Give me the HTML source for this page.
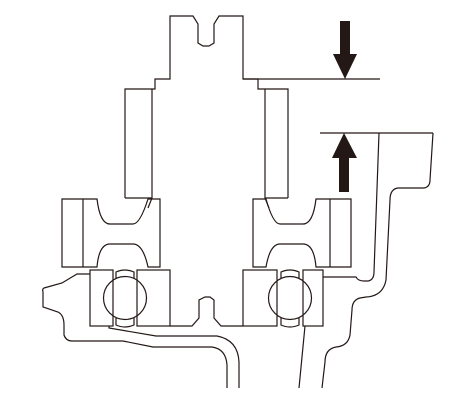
<!DOCTYPE html>
<html><head><meta charset="utf-8"><style>
html,body{margin:0;padding:0;background:#fff;width:475px;height:417px;overflow:hidden}
svg{display:block}
</style></head><body>
<svg width="475" height="417" viewBox="0 0 475 417" fill="none" stroke="#231815" stroke-width="1.2">
<path d="M125,198 L125,89 L155,89 L155,79 L170,79 L170,16 L193,16 L198,24 L198,43 L203,46 L209,46 L214,43 L214,24 L219,16 L243,16 L243,79 L258,79 L258,89 L288,89 L288,198"/>
<path d="M243,79 L380,79"/>
<path d="M152,89 L152,198 L148,208"/>
<path d="M265,89 L265,198 L269,208"/>
<path d="M125,198 L152,198 M265,198 L288,198"/>
<polygon fill="#231815" stroke="none" points="340,21 350,21 350,54 357,54 345,79 333,54 340,54"/>
<polygon fill="#231815" stroke="none" points="344,133 357,158 349,158 349,192 339,192 339,158 332,158"/>
<path d="M320,133 L433,133"/>
<path d="M62,199 L97,199 Q100,224 110,224 L133,224 Q140,224 148,199 L160,199 L160,267 L148,267 Q143,244 133,244 L110,244 Q99,244 97,267 L62,267 Z M83,199 L83,267"/>
<path d="M351,199 L316,199 Q313,224 303,224 L280,224 Q273,224 266,199 L253,199 L253,267 L266,267 Q270,244 280,244 L303,244 Q314,244 316,267 L351,267 Z M330,199 L330,267"/>
<g>
<rect x="90" y="270" width="23" height="56"/>
<rect x="137" y="270" width="33" height="56"/>
<circle cx="125" cy="298" r="21.5"/>
<path d="M116,278 L116,272 Q125,268 134,272 L134,278 M116,318 L116,325 Q125,329 134,325 L134,318"/>
</g>
<g>
<rect x="243" y="270" width="34" height="56"/>
<rect x="303" y="270" width="20" height="56"/>
<circle cx="290" cy="298" r="21.5"/>
<path d="M281,278 L281,272 Q290,268 299,272 L299,278 M281,318 L281,325 Q290,329 299,325 L299,318"/>
</g>
<path d="M170,326 L192,326 L199,318 L199,300 L205,297 L210,297 L214,300 L214,318 L221,326 L243,326"/>
<path d="M90,274 L77,274 L62,283 L44,288 Q42,289 43,292 L43,307 L58,312 Q64,315 64,325 L64,335 Q66,341 72,341 L123,341 L153,347 L212,347 Q226,349 227,365 L227,388"/>
<path d="M109,326 L109,328 L156,336 L217,336 Q238,340 239,362 L239,388"/>
<path d="M323,277 L356,277 Q358,281 364,281 L368,281 Q374,280 374,272 L379,133"/>
<path d="M433,133 L430,180 Q430,187 424,188 L398,188 Q390,189 390,200 L386,280 Q383,296 366,297 L360,298 Q352,300 352,310 L350,335 Q348,346 336,347 Q325,349 325,362 L322,388"/>
<path d="M305,326 L299,388"/>
</svg>
</body></html>
